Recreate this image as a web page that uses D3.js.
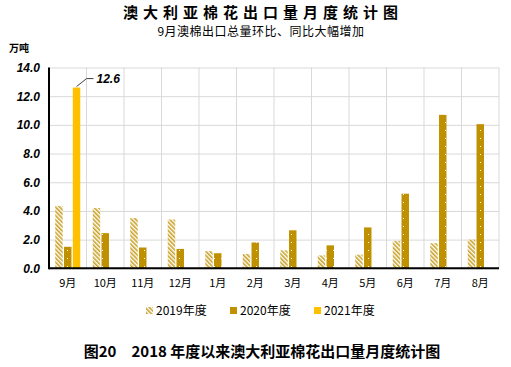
<!DOCTYPE html>
<html>
<head>
<meta charset="utf-8">
<script src="https://cdn.jsdelivr.net/npm/d3@7"></script>
<style>
  body { margin: 0; background: #fff; }
  svg { display: block; }
</style>
</head>
<body>
<div id="chart"></div>
<script>
// 数据
const months = ["9月", "10月", "11月", "12月", "1月", "2月", "3月", "4月", "5月", "6月", "7月", "8月"];
const series = ["2019年度", "2020年度", "2021年度"];
const v2019 = [4.35, 4.2, 3.5, 3.4, 1.2, 1.0, 1.25, 0.9, 0.95, 1.9, 1.75, 2.0];
const v2020 = [1.5, 2.45, 1.45, 1.35, 1.05, 1.8, 2.65, 1.6, 2.85, 5.2, 10.7, 10.05];
const v2021 = [12.6];
const yTicks = [0, 2, 4, 6, 8, 10, 12, 14];

const w = 511, h = 367;
const plotL = 49, plotR = 499, plotT = 67.5, plotB = 268.3;

const svg = d3.select("#chart").append("svg")
  .attr("width", w).attr("height", h);

// 图案
const defs = svg.append("defs");
const hatch = defs.append("pattern")
  .attr("id", "hatch").attr("patternUnits", "userSpaceOnUse")
  .attr("width", 3).attr("height", 3)
  .attr("patternTransform", "rotate(-45)");
hatch.append("rect").attr("width", 3).attr("height", 3).attr("fill", "#fff");
hatch.append("rect").attr("width", 1.6).attr("height", 3).attr("fill", "#C9A227");

const dots = defs.append("pattern")
  .attr("id", "dots").attr("patternUnits", "userSpaceOnUse")
  .attr("width", 7).attr("height", 8);
dots.append("rect").attr("width", 7).attr("height", 8).attr("fill", "#BF9000");
dots.append("rect").attr("x", 4).attr("y", 2).attr("width", 1).attr("height", 1).attr("fill", "#fff");

const fills = ["url(#hatch)", "url(#dots)", "#FFC000"];

// 比例尺
const x = d3.scaleBand().domain(months).range([plotL, plotR]);
const y = d3.scaleLinear().domain([0, 14]).range([plotB, plotT]);
const xs = d3.scaleBand().domain(series).range([0, 25]).paddingInner(0.15);

// 网格
svg.append("g")
  .attr("transform", `translate(${plotL},0)`)
  .call(d3.axisLeft(y).tickValues(yTicks).tickSize(-(plotR - plotL)).tickFormat(""))
  .call(g => g.select(".domain").remove())
  .call(g => g.selectAll("line").attr("stroke", "#d9d9d9"));

svg.append("g")
  .attr("transform", `translate(0,${plotT})`)
  .call(d3.axisBottom(x).tickSize(plotB - plotT).tickFormat(""))
  .call(g => g.select(".domain").remove())
  .call(g => g.selectAll(".tick").attr("transform", d => `translate(${x(d) + x.bandwidth()},0)`))
  .call(g => g.selectAll("line").attr("stroke", "#d9d9d9"));

// y 轴标签
svg.append("g")
  .attr("transform", `translate(${plotL},0)`)
  .call(d3.axisLeft(y).tickValues(yTicks).tickSize(0).tickPadding(9).tickFormat(d3.format(".1f")))
  .call(g => g.select(".domain").remove())
  .call(g => g.selectAll("text")
    .attr("font-family", "Arial, 'Liberation Sans', sans-serif")
    .attr("font-size", 12).attr("font-weight", "bold").attr("font-style", "italic")
    .attr("fill", "#000"));

// 柱
const groups = [v2019, v2020, v2021];
const off = (x.bandwidth() - 25) / 2;
groups.forEach((vals, si) => {
  svg.append("g").selectAll("rect")
    .data(vals.map((v, i) => ({ m: months[i], v })))
    .join("rect")
    .attr("x", d => x(d.m) + off + xs(series[si]))
    .attr("y", d => y(d.v))
    .attr("width", xs.bandwidth())
    .attr("height", d => y(0) - y(d.v))
    .attr("fill", fills[si]);
});

// 轴线
svg.append("line").attr("x1", plotL).attr("x2", plotL).attr("y1", plotT).attr("y2", plotB + 1)
  .attr("stroke", "#000").attr("stroke-width", 2);
svg.append("line").attr("x1", plotL).attr("x2", plotR).attr("y1", plotB).attr("y2", plotB)
  .attr("stroke", "#000").attr("stroke-width", 2);

// 月份
svg.append("g")
  .attr("transform", `translate(0,${plotB})`)
  .call(d3.axisBottom(x).tickSize(0).tickPadding(11))
  .call(g => g.select(".domain").remove())
  .call(g => g.selectAll("text")
    .attr("font-family", "'Noto Sans CJK SC', sans-serif")
    .attr("font-size", 11).attr("fill", "#000"));

// 12.6 标注
const lx = x(months[0]) + off + xs(series[2]) + xs.bandwidth() / 2;
const ly = y(v2021[0]);
svg.append("path")
  .attr("d", `M${lx},${ly - 1} L${lx + 10},${ly - 9} L${lx + 17},${ly - 9}`)
  .attr("fill", "none").attr("stroke", "#404040").attr("stroke-width", 1);
svg.append("text")
  .attr("x", lx + 20).attr("y", ly - 5)
  .attr("font-family", "Arial, 'Liberation Sans', sans-serif")
  .attr("font-size", 12).attr("font-weight", "bold").attr("font-style", "italic")
  .text(d3.format(".1f")(v2021[0]));

// 标题
svg.append("text")
  .attr("x", 263).attr("y", 17.8).attr("text-anchor", "middle")
  .attr("font-family", "'Noto Sans CJK SC', sans-serif")
  .attr("font-size", 15).attr("font-weight", "bold").attr("letter-spacing", 5)
  .text("澳大利亚棉花出口量月度统计图");
svg.append("text")
  .attr("x", 261).attr("y", 36).attr("text-anchor", "middle")
  .attr("font-family", "'Noto Sans CJK SC', sans-serif")
  .attr("font-size", 12)
  .attr("letter-spacing", 0.5)
  .text("9月澳棉出口总量环比、同比大幅增加");
svg.append("text")
  .attr("x", 9).attr("y", 52)
  .attr("font-family", "'Noto Sans CJK SC', sans-serif")
  .attr("font-size", 10).attr("font-weight", "bold")
  .text("万吨");

// 图例
const legendX = [146, 230, 314];
const lg = svg.append("g").attr("transform", "translate(0,312)");
series.forEach((s, i) => {
  lg.append("rect").attr("x", legendX[i]).attr("y", -5).attr("width", 7).attr("height", 7)
    .attr("fill", fills[i]);
  lg.append("text").attr("x", legendX[i] + 10).attr("y", 2.5)
    .attr("font-family", "'Noto Sans CJK SC', sans-serif")
    .attr("font-size", 12).text(s);
});

// 图注
svg.append("text")
  .attr("x", 262).attr("y", 357).attr("text-anchor", "middle")
  .attr("font-family", "'Noto Sans CJK SC', sans-serif")
  .attr("font-size", 15).attr("font-weight", "bold")
  .text("图20　2018 年度以来澳大利亚棉花出口量月度统计图");
</script>
</body>
</html>
